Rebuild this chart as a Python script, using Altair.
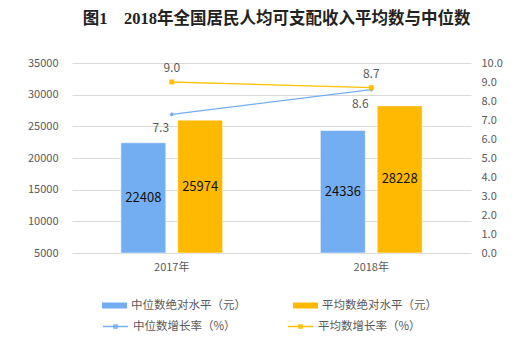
import altair as alt
import pandas as pd

years = ["2017年", "2018年"]
median_income = [22408, 24336]
mean_income = [25974, 28228]
median_growth = [7.3, 8.6]
mean_growth = [9.0, 8.7]

bar_series = ["中位数绝对水平（元）", "平均数绝对水平（元）"]
line_series = ["中位数增长率（%）", "平均数增长率（%）"]

bar_colors = ["#74AEF2", "#FFB900"]
line_colors = ["#74AEF2", "#FFC000"]

FONT = "Noto Sans CJK SC"
GRAY = "#595959"

bars_df = pd.DataFrame(
    [{"year": y, "series": bar_series[0], "value": v} for y, v in zip(years, median_income)]
    + [{"year": y, "series": bar_series[1], "value": v} for y, v in zip(years, mean_income)]
)
lines_df = pd.DataFrame(
    [{"year": y, "series": line_series[0], "value": v} for y, v in zip(years, median_growth)]
    + [{"year": y, "series": line_series[1], "value": v} for y, v in zip(years, mean_growth)]
)

x_axis = alt.Axis(title=None, labelAngle=0, domain=False, ticks=False, grid=False,
                  labelFont=FONT, labelFontSize=11, labelColor=GRAY, labelPadding=8)
x_scale = alt.Scale(paddingInner=0.49, paddingOuter=0.245)

left_scale = alt.Scale(domain=[5000, 35000], zero=False, nice=False)
left_axis = alt.Axis(title=None, orient="left", values=list(range(5000, 35001, 5000)),
                     format="d", domain=False, ticks=False, labelPadding=14,
                     labelOverlap=False,
                     labelFont=FONT, labelFontSize=11, labelColor=GRAY,
                     grid=True, gridColor="#d9d9d9", gridWidth=1)

bars = alt.Chart(bars_df).mark_bar(stroke="white", strokeWidth=0.5).encode(
    x=alt.X("year:N", sort=years, scale=x_scale, axis=x_axis),
    xOffset=alt.XOffset("series:N", sort=bar_series, scale=alt.Scale(paddingInner=0.21)),
    y=alt.Y("value:Q", scale=left_scale, axis=left_axis),
    y2=alt.datum(5000),
    fill=alt.Fill(
        "series:N",
        sort=bar_series,
        scale=alt.Scale(domain=bar_series, range=bar_colors),
        legend=alt.Legend(
            title=None, orient="none", direction="horizontal", legendX=30, legendY=230,
            symbolType="M-1,-0.24H1V0.24H-1Z", symbolSize=625, symbolStrokeWidth=0,
            labelFont=FONT, labelFontSize=11.5, labelColor=GRAY, labelOffset=4,
            columnPadding=47,
        ),
    ),
)

bar_text = alt.Chart(bars_df).transform_calculate(
    mid="(datum.value + 5000) / 2"
).mark_text(font=FONT, fontSize=13, color="#111111").encode(
    x=alt.X("year:N", sort=years, scale=x_scale, axis=x_axis),
    xOffset=alt.XOffset("series:N", sort=bar_series),
    y=alt.Y("mid:Q", scale=left_scale, axis=left_axis),
    text=alt.Text("value:Q", format="d"),
)

bar_layer = alt.layer(bars, bar_text)

right_scale = alt.Scale(domain=[0, 10], nice=False)
right_axis = alt.Axis(title=None, orient="right", values=list(range(0, 11)),
                      format=".1f", domain=False, ticks=False, labelPadding=10,
                      labelOverlap=False,
                      labelFont=FONT, labelFontSize=11, labelColor=GRAY, grid=False)

lines = alt.Chart(lines_df).mark_line(strokeWidth=1.3).encode(
    x=alt.X("year:N", sort=years),
    y=alt.Y("value:Q", scale=right_scale, axis=right_axis),
    stroke=alt.Stroke(
        "series:N",
        sort=line_series,
        scale=alt.Scale(domain=line_series, range=line_colors),
        legend=alt.Legend(
            title=None, orient="none", direction="horizontal", legendX=30, legendY=250,
            symbolType="M-1,0H1M-0.13,-0.13H0.13V0.13H-0.13Z", symbolSize=625,
            symbolStrokeWidth=1.3,
            labelFont=FONT, labelFontSize=11.5, labelColor=GRAY, labelOffset=4,
            columnPadding=49,
        ),
    ),
)

points_median = alt.Chart(lines_df).transform_filter(
    alt.datum.series == line_series[0]
).mark_point(shape="circle", size=14, filled=True, color=line_colors[0], opacity=1).encode(
    x=alt.X("year:N", sort=years),
    y=alt.Y("value:Q", scale=right_scale, axis=right_axis),
)
points_mean = alt.Chart(lines_df).transform_filter(
    alt.datum.series == line_series[1]
).mark_point(shape="square", size=25, filled=True, color=line_colors[1], opacity=1).encode(
    x=alt.X("year:N", sort=years),
    y=alt.Y("value:Q", scale=right_scale, axis=right_axis),
)

labels_mean = alt.Chart(lines_df).transform_filter(
    alt.datum.series == line_series[1]
).mark_text(font=FONT, fontSize=12, color=GRAY, dy=-14).encode(
    x=alt.X("year:N", sort=years),
    y=alt.Y("value:Q", scale=right_scale, axis=right_axis),
    text=alt.Text("value:Q", format=".1f"),
)
labels_median = alt.Chart(lines_df).transform_filter(
    alt.datum.series == line_series[0]
).mark_text(font=FONT, fontSize=12, color=GRAY, dy=14, dx=-11).encode(
    x=alt.X("year:N", sort=years),
    y=alt.Y("value:Q", scale=right_scale, axis=right_axis),
    text=alt.Text("value:Q", format=".1f"),
)

line_layer = alt.layer(lines, points_median, points_mean, labels_mean, labels_median)

chart = alt.layer(bar_layer, line_layer).resolve_scale(
    y="independent"
).properties(
    width=399,
    height=190,
    autosize=alt.AutoSizeParams(type="none"),
    padding={"left": 72, "top": 63, "right": 43, "bottom": 84},
    title=alt.TitleParams(
        "图1　2018年全国居民人均可支配收入平均数与中位数",
        font="Liberation Serif, Noto Sans CJK SC",
        fontSize=16.5, fontWeight="bold", color="#222222",
        anchor="middle", offset=30, dx=5,
    ),
).configure(background="white", view=alt.ViewConfig(stroke=None))

chart.save("out.html", embed_options={"renderer": "svg", "actions": False})
